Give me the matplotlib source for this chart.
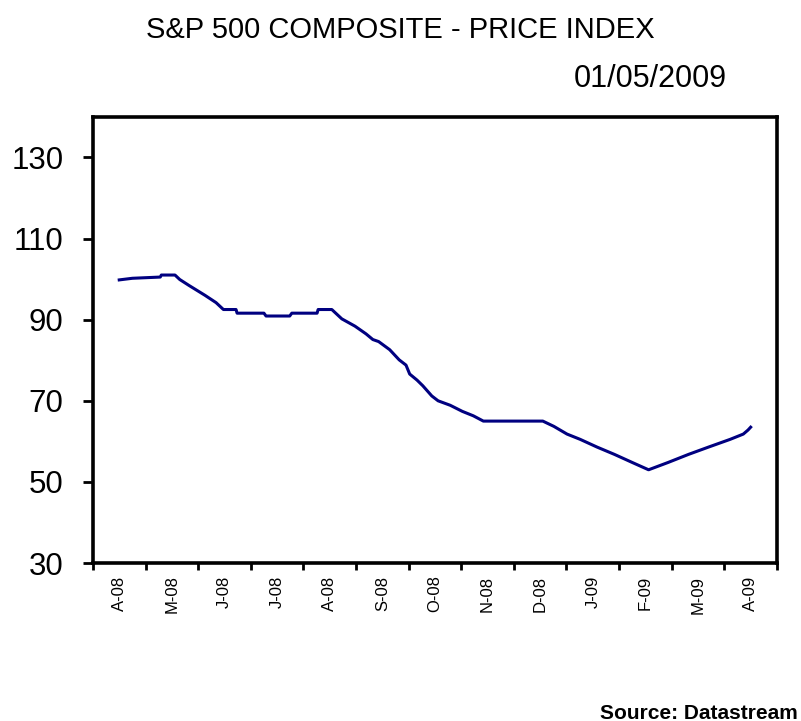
import matplotlib
matplotlib.use("Agg")
import matplotlib.pyplot as plt
import numpy as np

# months shown on the x axis (one category each)
months = ["A-08", "M-08", "J-08", "J-08", "A-08", "S-08", "O-08",
          "N-08", "D-08", "J-09", "F-09", "M-09", "A-09"]

# index readings, position given in months from the first category
pos = [0.0, 0.25, 0.78, 0.80, 1.06, 1.15, 1.33, 1.48, 1.63, 1.84, 1.98,
       2.22, 2.24, 2.75, 2.79, 3.24, 3.28, 3.76, 3.78, 4.04, 4.23, 4.48,
       4.69, 4.82, 4.93, 5.14, 5.32, 5.45, 5.52, 5.66, 5.77, 5.94, 6.06,
       6.29, 6.52, 6.73, 6.92, 8.05, 8.26, 8.51, 8.76, 9.08, 9.41, 9.75,
       10.06, 10.43, 10.82, 11.20, 11.61, 11.86, 11.95, 12.0]
index = [99.8, 100.2, 100.5, 101.0, 101.0, 99.9, 98.4, 97.2, 96.0, 94.2, 92.5,
         92.5, 91.6, 91.6, 90.9, 90.9, 91.6, 91.6, 92.5, 92.5, 90.2, 88.4,
         86.5, 85.1, 84.6, 82.6, 80.1, 78.8, 76.6, 75.1, 73.7, 71.2, 70.0,
         68.9, 67.4, 66.3, 65.0, 65.0, 63.7, 61.8, 60.5, 58.6, 56.8, 54.8,
         53.0, 54.8, 56.8, 58.6, 60.5, 61.8, 62.8, 63.5]

yticks = [30, 50, 70, 90, 110, 130]

plt.rcParams["font.family"] = ["Liberation Sans", "DejaVu Sans"]

fig = plt.figure(figsize=(8.01, 7.21), dpi=100)
ax = fig.add_axes([0.116, 0.219, 0.854, 0.619])

ax.plot(pos, index, color="#000080", linewidth=2.2)

ax.set_xlim(-0.5, len(months) - 0.5)
ax.set_ylim(30, 140)

ax.set_yticks(yticks)
ax.set_yticklabels([str(v) for v in yticks], fontsize=22.5)
ax.tick_params(axis="y", length=7, width=2, pad=14)

ax.set_xticks(np.arange(len(months) + 1) - 0.5)
ax.set_xticklabels([])
ax.tick_params(axis="x", which="major", length=5, width=2)
ax.set_xticks(np.arange(len(months)), minor=True)
ax.set_xticklabels(months, minor=True, rotation=90, fontsize=12, va="top")
ax.tick_params(axis="x", which="minor", length=0, pad=9)

for s in ax.spines.values():
    s.set_linewidth(2.6)

fig.text(0.500, 0.958, "S&P 500 COMPOSITE - PRICE INDEX", ha="center",
         va="center", fontsize=21)
fig.text(0.908, 0.891, "01/05/2009", ha="right", va="center", fontsize=22)
fig.text(0.996, 0.011, "Source: Datastream", ha="right", va="center",
         fontsize=15, fontweight="bold")

fig.savefig("out.png", dpi=100)
